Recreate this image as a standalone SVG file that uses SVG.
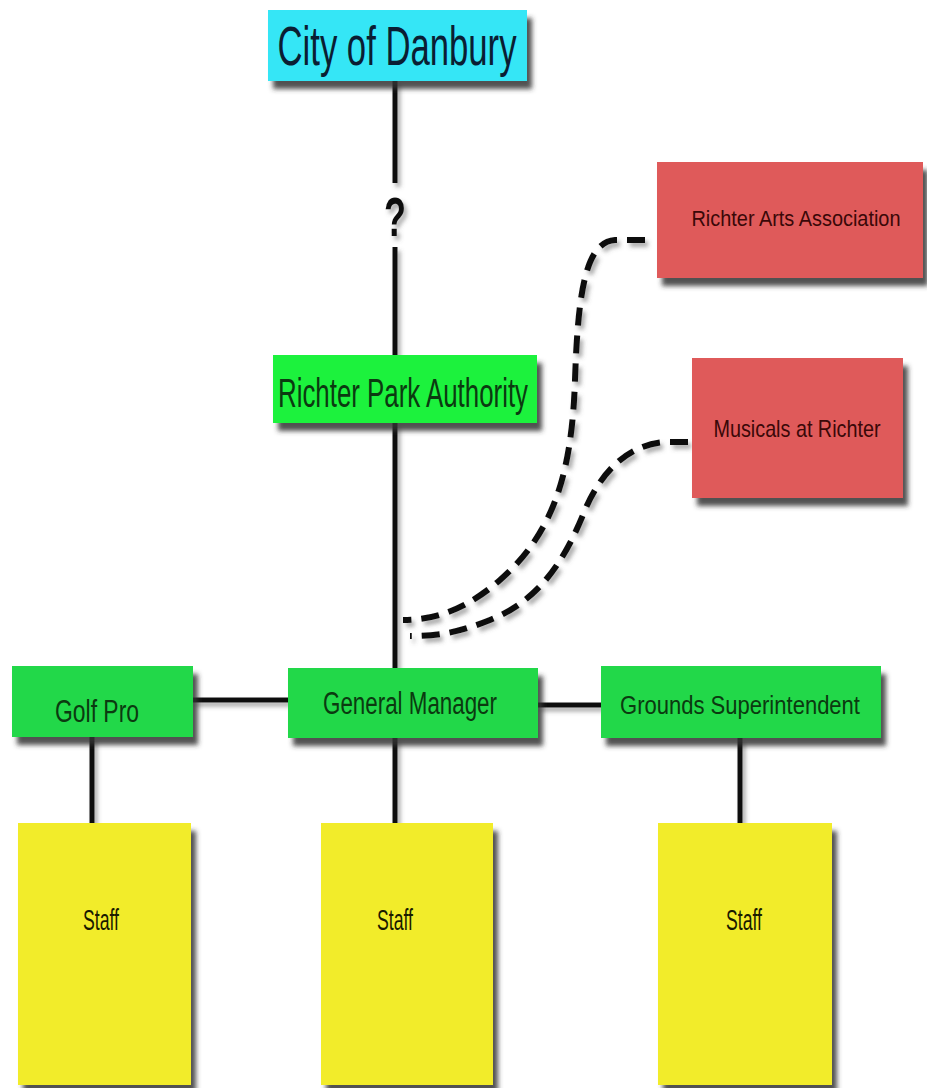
<svg xmlns="http://www.w3.org/2000/svg" width="927" height="1088" viewBox="0 0 927 1088">
<defs>
<filter id="sh" x="-10%" y="-10%" width="130%" height="140%">
<feDropShadow dx="5" dy="8" stdDeviation="2.5" flood-color="#333" flood-opacity="0.85"/>
</filter>
<filter id="lsh" x="-20%" y="-20%" width="140%" height="140%">
<feDropShadow dx="3" dy="4" stdDeviation="2" flood-color="#555" flood-opacity="0.5"/>
</filter>
</defs>
<style>
text{font-family:"Liberation Sans",Arial,sans-serif;text-anchor:middle}
.ln{stroke:#111;stroke-width:5;fill:none}
.dash{stroke:#111;stroke-width:6;fill:none;stroke-dasharray:18 10}
.cyan{fill:#36E6F6}
.g1{fill:#1FF23C}
.g2{fill:#22D84A}
.red{fill:#DF5A5A}
.yel{fill:#F2EC2A}
.tc{fill:#0A1E33}
.tg{fill:#0B3A10}
.tr{fill:#3A0808}
.ty{fill:#1A1A00}
</style>
<rect width="927" height="1088" fill="#fff"/>
<g id="connectors" filter="url(#lsh)">
<line class="ln" x1="395" y1="80" x2="395" y2="183"/>
<line class="ln" x1="395" y1="247" x2="395" y2="356"/>
<line class="ln" x1="395" y1="423" x2="395" y2="668"/>
<line class="ln" x1="192" y1="700" x2="288" y2="700"/>
<line class="ln" x1="537" y1="705" x2="601" y2="705"/>
<line class="ln" x1="92" y1="737" x2="92" y2="823"/>
<line class="ln" x1="395" y1="738" x2="395" y2="823"/>
<line class="ln" x1="740" y1="738" x2="740" y2="823"/>
<path class="dash" d="M645 240 H615 C586 242 578 290 575 380 C572 470 555 532 500 580 C470 606 440 620 403 620"/>
<path class="dash" d="M688 442 H665 C625 445 600 475 585 510 C565 560 540 600 490 620 C460 632 440 636 410 636"/>
<text x="395" y="236" font-size="56" font-weight="bold" fill="#111" textLength="22" lengthAdjust="spacingAndGlyphs">?</text>
</g>
<g id="city">
<rect class="cyan" x="268" y="10" width="259" height="71" filter="url(#sh)"/>
<text class="tc" x="397" y="65" font-size="55" textLength="239" lengthAdjust="spacingAndGlyphs">City of Danbury</text>
</g>
<g id="authority">
<rect class="g1" x="273" y="355" width="264" height="68" filter="url(#sh)"/>
<text class="tg" x="403" y="407" font-size="41" textLength="250" lengthAdjust="spacingAndGlyphs">Richter Park Authority</text>
</g>
<g id="arts">
<rect class="red" x="657" y="162" width="266" height="116" filter="url(#sh)"/>
<text class="tr" x="796" y="226" font-size="21.5" textLength="209" lengthAdjust="spacingAndGlyphs">Richter Arts Association</text>
</g>
<g id="musicals">
<rect class="red" x="692" y="358" width="211" height="140" filter="url(#sh)"/>
<text class="tr" x="797" y="437" font-size="24" textLength="167" lengthAdjust="spacingAndGlyphs">Musicals at Richter</text>
</g>
<g id="golfpro">
<rect class="g2" x="12" y="666" width="181" height="71" filter="url(#sh)"/>
<text class="tg" x="97" y="722" font-size="31" textLength="84" lengthAdjust="spacingAndGlyphs">Golf Pro</text>
</g>
<g id="gm">
<rect class="g2" x="288" y="668" width="250" height="70" filter="url(#sh)"/>
<text class="tg" x="410" y="714" font-size="31" textLength="174" lengthAdjust="spacingAndGlyphs">General Manager</text>
</g>
<g id="grounds">
<rect class="g2" x="601" y="666" width="280" height="72" filter="url(#sh)"/>
<text class="tg" x="740" y="714" font-size="25" textLength="240" lengthAdjust="spacingAndGlyphs">Grounds Superintendent</text>
</g>
<g id="staff1">
<rect class="yel" x="18" y="823" width="173" height="262" filter="url(#sh)"/>
<text class="ty" x="101" y="930" font-size="29" textLength="36" lengthAdjust="spacingAndGlyphs">Staff</text>
</g>
<g id="staff2">
<rect class="yel" x="321" y="823" width="172" height="262" filter="url(#sh)"/>
<text class="ty" x="395" y="930" font-size="29" textLength="36" lengthAdjust="spacingAndGlyphs">Staff</text>
</g>
<g id="staff3">
<rect class="yel" x="658" y="823" width="174" height="262" filter="url(#sh)"/>
<text class="ty" x="744" y="930" font-size="29" textLength="36" lengthAdjust="spacingAndGlyphs">Staff</text>
</g>
</svg>
